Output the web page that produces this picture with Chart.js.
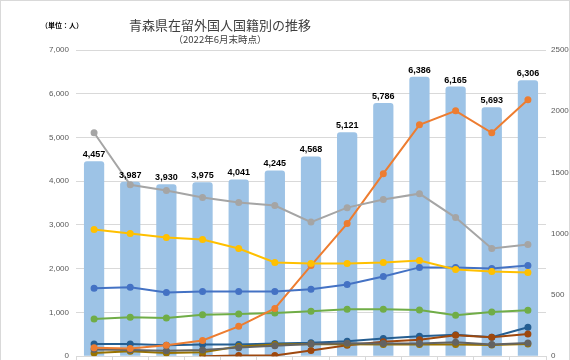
<!DOCTYPE html>
<html lang="ja">
<head>
<meta charset="utf-8">
<script src="https://cdn.jsdelivr.net/npm/chart.js@4.4.1/dist/chart.umd.min.js"></script>
<style>
  body { margin: 0; background: #fff; }
  #wrap { position: relative; width: 570px; height: 360px; box-sizing: border-box; border: 1px solid #d9d9d9; border-bottom: none; overflow: hidden; }
  #chart { position: absolute; left: 0; top: 0; }
  .txt { position: absolute; white-space: nowrap; font-family: "Noto Sans CJK JP", sans-serif; }
  #title { left: 219px; top: 14px; transform: translateX(-50%); font-size: 13px; color: #404040; }
  #sub { left: 219px; top: 31px; transform: translateX(-50%); font-size: 9.5px; color: #404040; }
  #unit { left: 40px; top: 19px; font-size: 7px; font-weight: bold; color: #000; }
</style>
</head>
<body>
<div id="wrap">
  <!-- 元画像は下端（年ラベル）が切れているので、キャンバスを少し高くして切り取る -->
  <canvas id="chart" width="570" height="367"></canvas>
  <div class="txt" id="unit">（単位：人）</div>
  <div class="txt" id="title">青森県在留外国人国籍別の推移</div>
  <div class="txt" id="sub">（2022年6月末時点）</div>
</div>
<script>
// 年（ラベルは画像下端で切れている）
const years = ['2010', '2011', '2012', '2013', '2014', '2015', '2016', '2017', '2018', '2019', '2020', '2021', '2022'];

// 総数（棒・左軸）
const total = [4457, 3987, 3930, 3975, 4041, 4245, 4568, 5121, 5786, 6386, 6165, 5693, 6306];

// 国籍別（折れ線・右軸）
const seriesGray = [1824, 1400, 1352, 1295, 1254, 1230, 1095, 1213, 1279, 1327, 1132, 880, 912];
const seriesYellow = [1034, 1002, 969, 953, 879, 765, 757, 757, 765, 782, 708, 692, 684];
const seriesBlue = [554, 562, 521, 529, 529, 529, 546, 586, 651, 725, 725, 717, 741];
const seriesOrange = [70, 63, 90, 128, 244, 390, 740, 1083, 1490, 1889, 2003, 1824, 2093];
const seriesGreen = [303, 319, 311, 339, 345, 353, 366, 383, 383, 377, 334, 361, 375];
const seriesNavy = [100, 100, 90, 95, 95, 103, 109, 122, 144, 163, 176, 155, 236];
const seriesBrown = [null, null, null, 0, 5, 5, 46, 90, 117, 135, 171, 155, 182];
const seriesDarkGray = [55, 50, 45, 50, 70, 85, 100, 105, 103, 103, 114, 95, 108];
const seriesOlive = [27, 41, 27, 33, 80, 95, 100, 98, 95, 95, 95, 92, 100];

const leftTicks = [0, 1000, 2000, 3000, 4000, 5000, 6000, 7000];
const rightTicks = [0, 500, 1000, 1500, 2000, 2500];

function lineSet(data, color) {
  return {
    type: 'line',
    data: data,
    yAxisID: 'y2',
    borderColor: color,
    backgroundColor: color,
    borderWidth: 2,
    pointRadius: 2.5,
    pointHoverRadius: 2.5,
    tension: 0,
    order: 0
  };
}

// 棒の上に数値
const barLabels = {
  id: 'barLabels',
  afterDatasetsDraw(chart) {
    const meta = chart.getDatasetMeta(0);
    const ctx = chart.ctx;
    ctx.save();
    ctx.font = 'bold 9px "Liberation Sans Narrow", "Liberation Sans", sans-serif';
    ctx.fillStyle = '#000';
    ctx.textAlign = 'center';
    ctx.textBaseline = 'bottom';
    meta.data.forEach((bar, i) => {
      ctx.fillText(total[i].toLocaleString('en-US'), bar.x, bar.y - 2);
    });
    ctx.restore();
  }
};

new Chart(document.getElementById('chart'), {
  type: 'bar',
  data: {
    labels: years,
    datasets: [
      {
        type: 'bar',
        data: total,
        yAxisID: 'y',
        backgroundColor: '#9DC3E6',
        borderRadius: { topLeft: 3, topRight: 3 },
        borderSkipped: 'bottom',
        barPercentage: 0.56,
        categoryPercentage: 1,
        order: 1
      },
      lineSet(seriesGray, '#A5A5A5'),
      lineSet(seriesYellow, '#FFC000'),
      lineSet(seriesBlue, '#4472C4'),
      lineSet(seriesOrange, '#ED7D31'),
      lineSet(seriesGreen, '#70AD47'),
      lineSet(seriesDarkGray, '#636363'),
      lineSet(seriesOlive, '#997300'),
      lineSet(seriesBrown, '#9E480E'),
      lineSet(seriesNavy, '#255E91')
    ]
  },
  options: {
    responsive: false,
    animation: false,
    layout: { padding: { top: 49, left: 0, right: 0, bottom: 0 } },
    plugins: {
      legend: { display: false },
      tooltip: { enabled: false }
    },
    scales: {
      x: {
        offset: true,
        grid: { offset: true, drawOnChartArea: false, drawTicks: true, tickLength: 5, color: '#d9d9d9' },
        border: { color: '#d9d9d9' },
        ticks: { display: false },
        afterFit(scale) { scale.height = 5; }
      },
      y: {
        position: 'left',
        min: 0,
        max: 7000,
        afterBuildTicks(scale) { scale.ticks = leftTicks.map(v => ({ value: v })); },
        grid: { color: '#d9d9d9', drawTicks: false },
        border: { display: false },
        ticks: {
          padding: 7,
          color: '#595959',
          font: { family: '"Liberation Sans", sans-serif', size: 8 },
          callback: v => v.toLocaleString('en-US')
        },
        afterFit(scale) { scale.width = 75; }
      },
      y2: {
        position: 'right',
        min: 0,
        max: 2500,
        afterBuildTicks(scale) { scale.ticks = rightTicks.map(v => ({ value: v })); },
        grid: { drawOnChartArea: false, drawTicks: false },
        border: { display: false },
        ticks: {
          padding: 5,
          color: '#595959',
          font: { family: '"Liberation Sans", sans-serif', size: 8 },
          callback: v => String(v)
        },
        afterFit(scale) { scale.width = 25; }
      }
    }
  },
  plugins: [barLabels]
});
</script>
</body>
</html>
